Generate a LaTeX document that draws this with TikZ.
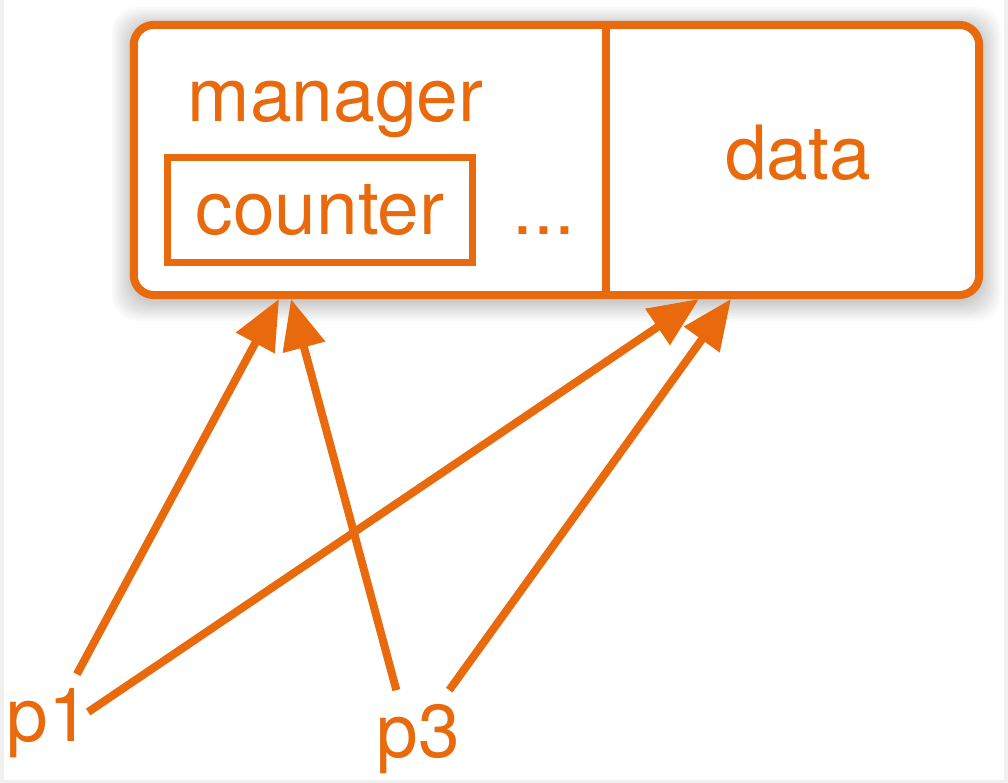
\documentclass[tikz,border=0pt]{standalone}
\usepackage{fontspec}
\setmainfont{TeX Gyre Heros}
\usepackage{tikz}
\usetikzlibrary{arrows.meta}
\definecolor{mgrorange}{HTML}{E86A0C}

\begin{document}
\begin{tikzpicture}[x=0.01cm,y=-0.01cm,
    every node/.style={text=mgrorange,font=\fontsize{21.3}{25}\selectfont},
    store/.style={draw=mgrorange,line width=0.08cm,rounded corners=0.2cm,fill=white,
        minimum width=8.45cm,minimum height=2.70cm},
    ctrbox/.style={draw=mgrorange,line width=0.07cm,minimum width=3.04cm,minimum height=1.04cm,inner sep=0pt},
    proc/.style={inner sep=0.14cm},
    ref/.style={draw=mgrorange,line width=0.08cm,-{Triangle[length=0.5cm,width=0.42cm]}}]
    \useasboundingbox (0,0) rectangle (1008,783);
    \fill[gray!12] (0,0) rectangle (1008,783);
    \fill[white] (4,0) rectangle (1004,780);

    % soft shadow behind the block
    \foreach \g in {4,6,...,22}
        \fill [black,opacity=0.018,rounded corners=0.25cm]
            (134-\g,29-\g) rectangle (979+\g,299+\g);

    % shared block
    \node [store] (blk) at (556.5,160) {};
    \coordinate (split) at (606,160);
    \draw [mgrorange,line width=0.08cm] (split |- blk.north) -- (split |- blk.south);

    \node [anchor=base west,inner sep=0pt] (mgr) at (187,122) {manager};
    \node [ctrbox] (ctr) at (320,210) {counter};
    \node [anchor=base west,inner sep=0pt] (more) at (512,235) {...};
    \node [anchor=base,inner sep=0pt] (data) at (798,180) {data};

    % processes
    \node [proc,anchor=base west] (p1) at (-8,742) {p1};
    \node [proc,anchor=base west] (p3) at (362,758) {p3};

    \coordinate (mgrL) at (279,299);
    \coordinate (mgrR) at (291,299);
    \coordinate (dataL) at (699,299);
    \coordinate (dataR) at (731,299);

    \draw [ref] (p1.60) -- (mgrL);
    \draw [ref,shorten <=-0.2cm] (p1.22) -- (dataL);
    \draw [ref] (p3.114) -- (mgrR);
    \draw [ref] (p3.58) -- (dataR);
\end{tikzpicture}
\end{document}
